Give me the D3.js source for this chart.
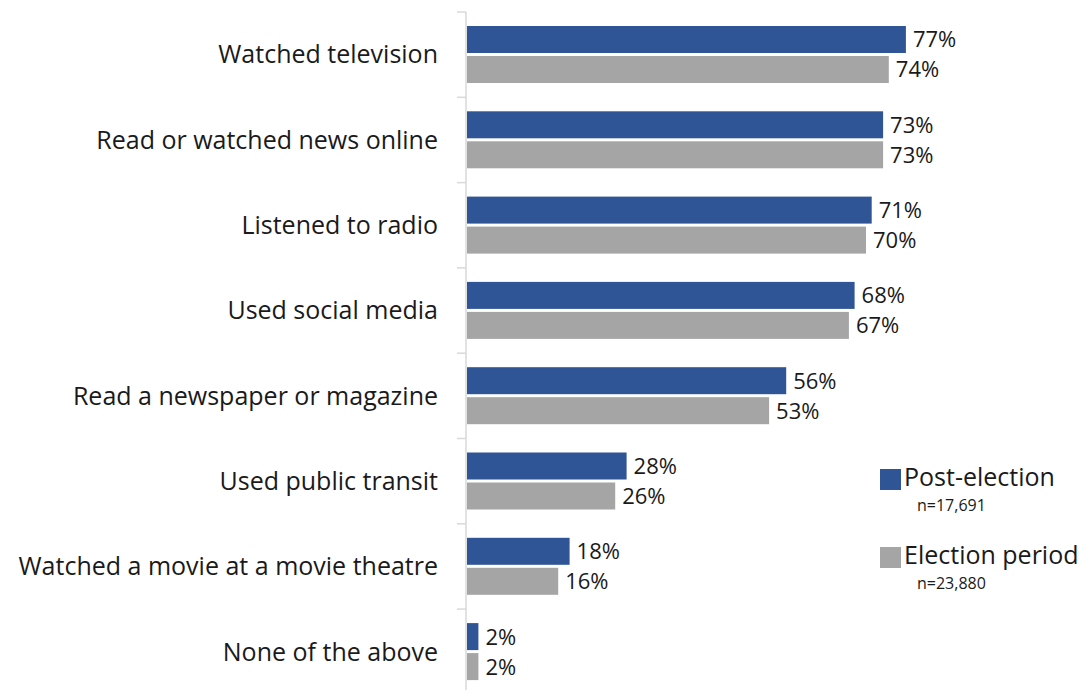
<!DOCTYPE html>
<html>
<head>
<meta charset="utf-8">
<script src="https://cdn.jsdelivr.net/npm/d3@7"></script>
<style>
  html, body { margin: 0; padding: 0; background: #fff; }
  svg { display: block; font-family: "Open Sans", "Noto Sans", sans-serif; }
</style>
</head>
<body>
<svg id="chart" width="1085" height="690"></svg>
<script>
// Media activities, share of respondents
const categories = [
  "Watched television",
  "Read or watched news online",
  "Listened to radio",
  "Used social media",
  "Read a newspaper or magazine",
  "Used public transit",
  "Watched a movie at a movie theatre",
  "None of the above"
];
const seriesNames = ["Post-election", "Election period"];
const seriesSizes = ["n=17,691", "n=23,880"];
const postElection = [77, 73, 71, 68, 56, 28, 18, 2];
const electionPeriod = [74, 73, 70, 67, 53, 26, 16, 2];
const colors = ["#2F5597", "#A5A5A5"];

const svg = d3.select("#chart");
const axisX = 466;
const plotTop = 12;
const step = 85.3;

const x = d3.scaleLinear().domain([0, 100]).range([axisX + 1, axisX + 1 + 570]);
const y = d3.scaleBand().domain(categories).range([plotTop, plotTop + step * categories.length]).padding(0);
const ySub = d3.scaleBand().domain(seriesNames).range([14, 71]).paddingInner(0.1);

const rows = categories.map((c, i) => ({
  category: c,
  values: [
    { series: seriesNames[0], value: postElection[i], color: colors[0] },
    { series: seriesNames[1], value: electionPeriod[i], color: colors[1] }
  ]
}));

// Category axis with ticks on band boundaries
const boundaries = d3.range(categories.length + 1).map(i => plotTop + i * step);
svg.append("line")
  .attr("x1", axisX).attr("x2", axisX)
  .attr("y1", plotTop).attr("y2", 690)
  .attr("stroke", "#D9D9D9").attr("stroke-width", 1.5);
svg.selectAll("line.tick").data(boundaries).join("line")
  .attr("class", "tick")
  .attr("x1", axisX - 9).attr("x2", axisX)
  .attr("y1", d => d).attr("y2", d => d)
  .attr("stroke", "#D9D9D9").attr("stroke-width", 1.5);

svg.selectAll("text.cat").data(categories).join("text")
  .attr("class", "cat")
  .attr("x", 438)
  .attr("y", d => y(d) + y.bandwidth() / 2)
  .attr("dy", "0.35em")
  .attr("text-anchor", "end")
  .attr("font-size", 25)
  .attr("fill", "#1a1a1a")
  .text(d => d);

const groups = svg.selectAll("g.row").data(rows).join("g")
  .attr("class", "row")
  .attr("transform", d => `translate(0,${y(d.category)})`);

groups.selectAll("rect").data(d => d.values).join("rect")
  .attr("x", x(0))
  .attr("y", d => ySub(d.series))
  .attr("width", d => x(d.value) - x(0))
  .attr("height", ySub.bandwidth())
  .attr("fill", d => d.color);

groups.selectAll("text.val").data(d => d.values).join("text")
  .attr("class", "val")
  .attr("x", d => x(d.value) + 7)
  .attr("y", d => ySub(d.series) + ySub.bandwidth() / 2)
  .attr("dy", "0.36em")
  .attr("font-size", 22)
  .attr("fill", "#1a1a1a")
  .text(d => d.value + "%");

// Legend
const legend = svg.selectAll("g.legend").data(seriesNames).join("g")
  .attr("class", "legend")
  .attr("transform", (d, i) => `translate(880,${469 + i * 78})`);
legend.append("rect")
  .attr("width", 21).attr("height", 21)
  .attr("fill", (d, i) => colors[i]);
legend.append("text")
  .attr("x", 24).attr("y", 17)
  .attr("font-size", 25)
  .attr("fill", "#1a1a1a")
  .text(d => d);
legend.append("text")
  .attr("x", 37).attr("y", 42)
  .attr("font-size", 16)
  .attr("fill", "#1a1a1a")
  .text((d, i) => seriesSizes[i]);
</script>
</body>
</html>
